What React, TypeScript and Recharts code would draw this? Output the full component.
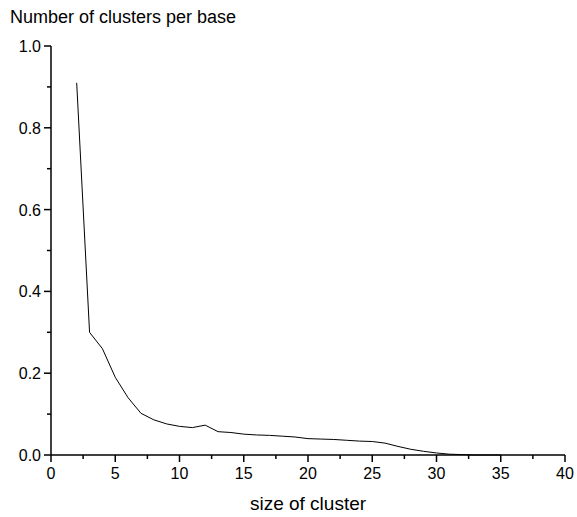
import { LineChart, Line, XAxis, YAxis } from "recharts";

const sizes = [2, 3, 4, 5, 6, 7, 8, 9, 10, 11, 12, 13, 14, 15, 16, 17, 18, 19, 20, 21, 22, 23, 24, 25, 26, 27, 28, 29, 30, 31, 32, 33, 34, 35];
const clustersPerBase = [
  0.91, 0.3, 0.26, 0.19, 0.14, 0.102, 0.086, 0.076, 0.07, 0.067, 0.073, 0.057, 0.055, 0.051, 0.049,
  0.048, 0.046, 0.044, 0.04, 0.039, 0.038, 0.036, 0.034, 0.033, 0.029, 0.021, 0.014, 0.009, 0.005,
  0.002, 0.001, 0, 0, 0,
];
const xTicks = [0, 2.5, 5, 7.5, 10, 12.5, 15, 17.5, 20, 22.5, 25, 27.5, 30, 32.5, 35, 37.5, 40];
const yTicks = [0, 0.1, 0.2, 0.3, 0.4, 0.5, 0.6, 0.7, 0.8, 0.9, 1.0];

const data = sizes.map((s, i) => ({ size: s, value: clustersPerBase[i] }));
const FONT = "Arial, 'Liberation Sans', sans-serif";

const XTick = ({ x, y, payload }: any) => {
  const v = payload.value;
  const major = v % 5 === 0;
  return (
    <g>
      <line x1={x} x2={x} y1={y - 8} y2={y - 8 + (major ? 7 : 4)} stroke="#000" strokeWidth={1.5} />
      {major && (
        <text x={x} y={y + 16} textAnchor="middle" fontSize={16} fontFamily={FONT} fill="#000">
          {v}
        </text>
      )}
    </g>
  );
};

const YTick = ({ x, y, payload }: any) => {
  const v = payload.value;
  const major = Math.round(v * 10) % 2 === 0;
  return (
    <g>
      <line x1={x + 8} x2={x + 8 - (major ? 7 : 4)} y1={y} y2={y} stroke="#000" strokeWidth={1.5} />
      {major && (
        <text x={x - 2} y={y + 6} textAnchor="end" fontSize={16} fontFamily={FONT} fill="#000">
          {v.toFixed(1)}
        </text>
      )}
    </g>
  );
};

export default function App() {
  return (
    <div style={{ position: "fixed", left: 0, top: 0, width: 577, height: 517, background: "#fff" }}>
      <LineChart width={577} height={517} data={data} margin={{ top: 46, right: 12, left: 10, bottom: 32 }}>
        <XAxis
          dataKey="size"
          type="number"
          domain={[0, 40]}
          ticks={xTicks}
          interval={0}
          tickLine={false}
          axisLine={{ stroke: "#000", strokeWidth: 1.5 }}
          tick={<XTick />}
          height={30}
        />
        <YAxis
          type="number"
          domain={[0, 1]}
          ticks={yTicks}
          interval={0}
          tickLine={false}
          axisLine={{ stroke: "#000", strokeWidth: 1.5 }}
          tick={<YTick />}
          width={41}
        />
        <Line dataKey="value" stroke="#000" strokeWidth={1} dot={false} isAnimationActive={false} />
        <text x={10} y={23} fontSize={18} fontFamily={FONT} fill="#000">
          Number of clusters per base
        </text>
        <text x={308} y={510} textAnchor="middle" fontSize={19} fontFamily={FONT} fill="#000">
          size of cluster
        </text>
      </LineChart>
    </div>
  );
}
